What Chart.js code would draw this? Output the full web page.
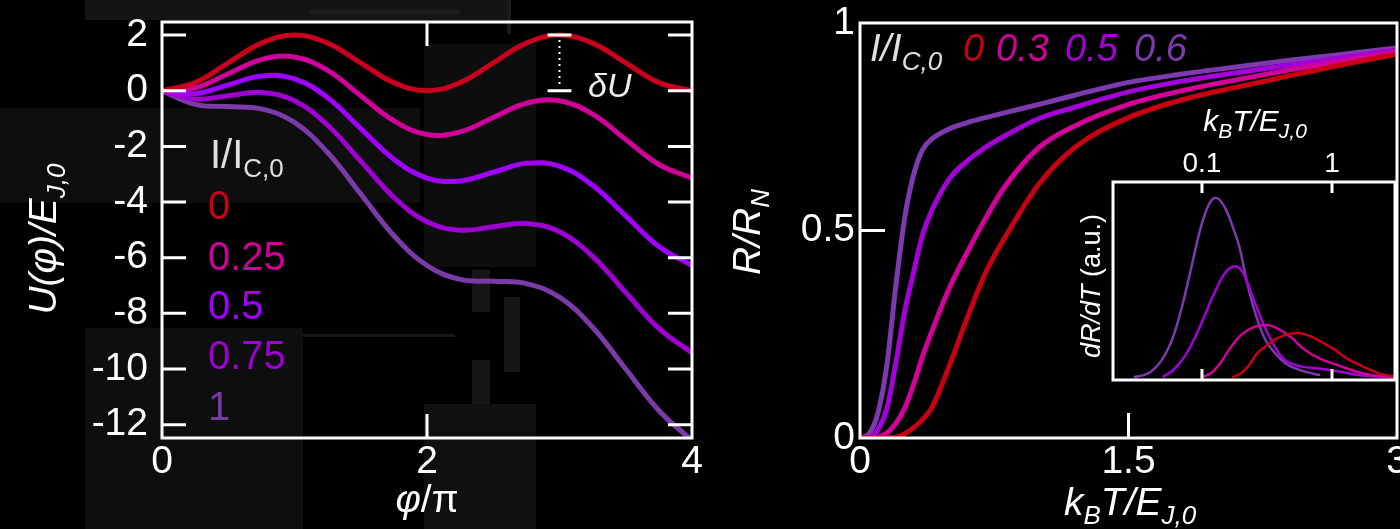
<!DOCTYPE html>
<html>
<head>
<meta charset="utf-8">
<script src="https://cdn.jsdelivr.net/npm/chart.js@4.4.1/dist/chart.umd.min.js"></script>
<style>
html, body { margin: 0; padding: 0; background: #000; }
#wrap { position: relative; width: 1400px; height: 529px; overflow: hidden; background: #000; }
#wrap canvas { position: absolute; }
.sem { position: absolute; }
</style>
</head>
<body>
<div id="wrap">
  <!-- faint SEM picture behind the left panel -->
  <div class="sem" style="left:85px;top:0;width:424px;height:20px;background:#141414"></div>
  <div class="sem" style="left:310px;top:10px;width:150px;height:4px;background:#1e1e1e"></div>
  <div class="sem" style="left:507px;top:0;width:4px;height:34px;background:#1a1a1a"></div>
  <div class="sem" style="left:0;top:108px;width:420px;height:95px;background:#0e0e0e"></div>
  <div class="sem" style="left:424px;top:44px;width:112px;height:223px;background:#0d0d0d"></div>
  <div class="sem" style="left:85px;top:328px;width:218px;height:201px;background:#0e0e0e"></div>
  <div class="sem" style="left:303px;top:334px;width:152px;height:3px;background:#181818"></div>
  <div class="sem" style="left:472px;top:270px;width:18px;height:42px;background:#161616"></div>
  <div class="sem" style="left:504px;top:297px;width:16px;height:75px;background:#161616"></div>
  <div class="sem" style="left:472px;top:360px;width:18px;height:45px;background:#161616"></div>
  <div class="sem" style="left:424px;top:404px;width:112px;height:125px;background:#101010"></div>
  <canvas id="potential" width="720" height="529" style="left:0;top:0"></canvas>
  <canvas id="resistance" width="700" height="529" style="left:700px;top:0"></canvas>
  <canvas id="inset" width="360" height="300" style="left:1040px;top:90px"></canvas>
</div>
<script>
var fam = '"Liberation Sans", Arial, Helvetica, sans-serif';

// left panel: tilted washboard potential
var phiOverPi = [0, 0.25, 0.5, 0.75, 1, 1.25, 1.5, 1.75, 2, 2.25, 2.5, 2.75, 3, 3.25, 3.5, 3.75, 4];
var biasLeft = ['0', '0.25', '0.5', '0.75', '1'];
var colorLeft = ['#c8001e', '#d0009a', '#a000ff', '#9e00d2', '#7a3aa8'];
var uBias0 = [0, 0.29, 1, 1.71, 2, 1.71, 1, 0.29, 0, 0.29, 1, 1.71, 2, 1.71, 1, 0.29, 0];
var uBias025 = [0, 0.10, 0.61, 1.12, 1.21, 0.73, -0.18, -1.08, -1.57, -1.48, -0.96, -0.45, -0.36, -0.84, -1.75, -2.65, -3.14];
var uBias05 = [0, -0.10, 0.21, 0.53, 0.43, -0.25, -1.36, -2.46, -3.14, -3.24, -2.93, -2.61, -2.71, -3.40, -4.50, -5.60, -6.28];
var uBias075 = [0, -0.30, -0.18, -0.06, -0.36, -1.24, -2.53, -3.83, -4.71, -5.01, -4.89, -4.77, -5.07, -5.95, -7.25, -8.54, -9.42];
var uBias1 = [0, -0.49, -0.57, -0.65, -1.14, -2.22, -3.71, -5.21, -6.28, -6.78, -6.85, -6.93, -7.42, -8.50, -10.00, -11.49, -12.57];
var phiTicks = [0, 2, 4];
var uTicks = [2, 0, -2, -4, -6, -8, -10, -12];

// right panel: R/RN versus temperature
var biasRight = ['0', '0.3', '0.5', '0.6'];
var colorRight = ['#c80014', '#d4009a', '#a400d8', '#7d3aae'];
var kT = [0, 0.05, 0.1, 0.15, 0.2, 0.25, 0.3, 0.35, 0.4, 0.5, 0.6, 0.7, 0.8, 1.0, 1.2, 1.5, 1.8, 2.1, 2.4, 2.7, 3.0];
var rBias0 = [0, 0, 0, 0, 0.002, 0.01, 0.025, 0.045, 0.072, 0.175, 0.29, 0.397, 0.476, 0.612, 0.70, 0.772, 0.815, 0.845, 0.873, 0.9, 0.925];
var rBias03 = [0, 0, 0.002, 0.012, 0.035, 0.072, 0.13, 0.197, 0.255, 0.362, 0.448, 0.528, 0.60, 0.70, 0.752, 0.804, 0.837, 0.863, 0.887, 0.909, 0.93];
var rBias05 = [0, 0.001, 0.02, 0.07, 0.18, 0.305, 0.40, 0.49, 0.547, 0.625, 0.668, 0.70, 0.726, 0.77, 0.797, 0.834, 0.86, 0.88, 0.899, 0.917, 0.935];
var rBias06 = [0, 0.01, 0.06, 0.175, 0.366, 0.531, 0.635, 0.695, 0.72, 0.745, 0.76, 0.772, 0.783, 0.804, 0.826, 0.857, 0.877, 0.894, 0.91, 0.925, 0.94];
var kTTicks = [0, 1.5, 3];
var rTicks = [0, 0.5, 1];

// inset: dR/dT on a log temperature axis
var insetT0 = [0.17, 0.2, 0.23, 0.26, 0.32, 0.4, 0.55, 0.7, 0.85, 1.02, 1.3, 1.85, 2.4, 3.0];
var insetD0 = [0.003, 0.025, 0.065, 0.118, 0.17, 0.21, 0.23, 0.21, 0.18, 0.15, 0.10, 0.05, 0.02, 0.008];
var insetT03 = [0.1, 0.12, 0.14, 0.164, 0.2, 0.25, 0.315, 0.4, 0.5, 0.6, 0.8, 1.09, 1.5, 2.0, 3.0];
var insetD03 = [0.004, 0.03, 0.08, 0.15, 0.22, 0.26, 0.27, 0.245, 0.2, 0.15, 0.10, 0.067, 0.035, 0.015, 0.003];
var insetT05 = [0.05, 0.06, 0.07, 0.08, 0.1, 0.12, 0.15, 0.18, 0.21, 0.25, 0.316, 0.42, 0.55, 0.76, 1.1, 1.55, 2.2, 3.0];
var insetD05 = [0.005, 0.04, 0.09, 0.15, 0.285, 0.41, 0.535, 0.57, 0.53, 0.40, 0.236, 0.10, 0.062, 0.05, 0.035, 0.017, 0.008, 0.003];
var insetT06 = [0.03, 0.04, 0.05, 0.06, 0.07, 0.08, 0.09, 0.1, 0.115, 0.128, 0.15, 0.175, 0.196, 0.22, 0.26, 0.31, 0.375, 0.45, 0.6, 0.81];
var insetD06 = [0.004, 0.03, 0.1, 0.21, 0.36, 0.52, 0.67, 0.79, 0.895, 0.92, 0.87, 0.76, 0.657, 0.5, 0.32, 0.19, 0.118, 0.07, 0.035, 0.015];
var insetTicks = [0.1, 1];

Chart.defaults.font.family = fam;

function pairs(xs, ys) {
    return xs.map(function (x, i) { return {x: x, y: ys[i]}; });
}

function fontOf(p) {
    return (p.it ? 'italic ' : '') + p.s + 'px ' + fam;
}

// text with subscript pieces; y is the baseline
function drawRich(ctx, parts, x, y, align, color, rot) {
    ctx.save();
    ctx.translate(x, y);
    if (rot) ctx.rotate(rot);
    ctx.textBaseline = 'alphabetic';
    ctx.textAlign = 'left';
    var w = 0;
    parts.forEach(function (p) { ctx.font = fontOf(p); w += ctx.measureText(p.t).width; });
    var cx = align === 'center' ? -w / 2 : 0;
    parts.forEach(function (p) {
        ctx.font = fontOf(p);
        ctx.fillStyle = p.c || color;
        ctx.fillText(p.t, cx, p.dy || 0);
        cx += ctx.measureText(p.t).width;
    });
    ctx.restore();
}

function fixedTicks(list) {
    return function (s) { s.ticks = list.map(function (v) { return {value: v}; }); };
}

function tickOpts(size, pad) {
    return {
        color: '#fff', font: {family: fam, size: size}, padding: pad,
        maxRotation: 0, autoSkip: false,
        callback: function (v) { return String(v); }
    };
}

// white box with inward tick marks
function framePlugin(cfg) {
    return {
        id: 'frame',
        beforeDatasetsDraw: function (chart) {
            if (!cfg.fill) return;
            var a = chart.chartArea;
            chart.ctx.fillStyle = '#000';
            chart.ctx.fillRect(a.left, a.top, a.right - a.left, a.bottom - a.top);
        },
        afterDatasetsDraw: function (chart) {
            var c = chart.ctx, a = chart.chartArea, sx = chart.scales.x, sy = chart.scales.y;
            c.save();
            c.strokeStyle = '#fff';
            c.lineWidth = cfg.lw;
            c.lineCap = 'butt';
            c.strokeRect(a.left, a.top, a.right - a.left, a.bottom - a.top);
            c.beginPath();
            (cfg.yTicks || []).forEach(function (v) {
                var py = sy.getPixelForValue(v);
                c.moveTo(a.left, py); c.lineTo(a.left + cfg.len, py);
                if (cfg.mirror) { c.moveTo(a.right, py); c.lineTo(a.right - cfg.len, py); }
            });
            (cfg.xTicks || []).forEach(function (v) {
                var px = sx.getPixelForValue(v);
                if (cfg.bottom) { c.moveTo(px, a.bottom); c.lineTo(px, a.bottom - cfg.len); }
                if (cfg.top) { c.moveTo(px, a.top); c.lineTo(px, a.top + cfg.len); }
            });
            c.stroke();
            c.restore();
            if (cfg.extra) cfg.extra(chart);
        }
    };
}

// ---------------- left panel ----------------
var potential = [uBias0, uBias025, uBias05, uBias075, uBias1];

function leftText(chart) {
    var c = chart.ctx, sx = chart.scales.x, sy = chart.scales.y;
    // delta U marker
    var x0 = sx.getPixelForValue(3);
    var xa = sx.getPixelForValue(2.91), xb = sx.getPixelForValue(3.09);
    var yTop = sy.getPixelForValue(2), yBot = sy.getPixelForValue(0);
    c.save();
    c.strokeStyle = '#fff';
    c.lineWidth = 3;
    c.beginPath();
    c.moveTo(xa, yTop); c.lineTo(xb, yTop);
    c.moveTo(xa, yBot); c.lineTo(xb, yBot);
    c.stroke();
    c.lineWidth = 2;
    c.setLineDash([2, 4]);
    c.beginPath();
    c.moveTo(x0, yTop + 5); c.lineTo(x0, yBot - 4);
    c.stroke();
    c.restore();
    drawRich(c, [{t: 'δU', s: 34, it: true}], 588, 97, 'left', '#eee');

    // legend
    drawRich(c, [{t: 'I/I', s: 40}, {t: 'C,0', s: 26, dy: 9}], 210, 168, 'left', '#e0e0e0');
    var base = [219, 270, 319, 369, 420];
    biasLeft.forEach(function (b, i) {
        drawRich(c, [{t: b, s: 40}], 208, base[i], 'left', colorLeft[i]);
    });

    // axis titles
    drawRich(c, [{t: 'φ', s: 39, it: true}, {t: '/π', s: 39}], 427, 512, 'center', '#fff');
    drawRich(c, [{t: 'U(φ)/E', s: 39, it: true}, {t: 'J,0', s: 26, it: true, dy: 9}],
        56, 239, 'center', '#fff', -Math.PI / 2);
}

new Chart(document.getElementById('potential'), {
    type: 'line',
    data: {
        datasets: biasLeft.map(function (b, i) {
            return {
                label: b, data: pairs(phiOverPi, potential[i]),
                borderColor: colorLeft[i], borderWidth: 5, pointRadius: 0,
                tension: 0.4, fill: false
            };
        })
    },
    options: {
        responsive: false, animation: false, devicePixelRatio: 1,
        layout: {padding: {left: 0, right: 28, top: 22, bottom: 0}},
        plugins: {legend: {display: false}, tooltip: {enabled: false}},
        scales: {
            x: {
                type: 'linear', min: 0, max: 4,
                afterBuildTicks: fixedTicks(phiTicks),
                afterFit: function (s) { s.height = 91; s.paddingLeft = 0; s.paddingRight = 0; },
                grid: {display: false, drawTicks: false}, border: {display: false},
                ticks: tickOpts(39, 1)
            },
            y: {
                type: 'linear', min: -12.48, max: 2.47,
                afterBuildTicks: fixedTicks(uTicks),
                afterFit: function (s) { s.width = 162; s.paddingTop = 0; s.paddingBottom = 0; },
                grid: {display: false, drawTicks: false}, border: {display: false},
                ticks: tickOpts(39, 14)
            }
        }
    },
    plugins: [framePlugin({lw: 3, len: 24, yTicks: uTicks, xTicks: [2], mirror: true, top: true, bottom: true, extra: leftText})]
});

// ---------------- right panel ----------------
var resistance = [rBias0, rBias03, rBias05, rBias06];

function rightText(chart) {
    var c = chart.ctx;
    drawRich(c, [{t: 'I/I', s: 38, it: true}, {t: 'C,0', s: 26, it: true, dy: 9}], 170, 61, 'left', '#e0e0e0');
    var xs = [263, 296, 365, 434];
    biasRight.forEach(function (b, i) {
        drawRich(c, [{t: b, s: 38, it: true}], xs[i], 61, 'left', colorRight[i]);
    });
    drawRich(c, [{t: 'k', s: 39, it: true}, {t: 'B', s: 26, it: true, dy: 9}, {t: 'T/E', s: 39, it: true},
        {t: 'J,0', s: 26, it: true, dy: 9}], 430, 515, 'center', '#fff');
    drawRich(c, [{t: 'R/R', s: 39, it: true}, {t: 'N', s: 26, it: true, dy: 9}],
        60, 232, 'center', '#fff', -Math.PI / 2);
}

new Chart(document.getElementById('resistance'), {
    type: 'line',
    data: {
        datasets: biasRight.map(function (b, i) {
            return {
                label: b, data: pairs(kT, resistance[i]),
                borderColor: colorRight[i], borderWidth: 5, pointRadius: 0,
                cubicInterpolationMode: 'monotone', fill: false
            };
        })
    },
    options: {
        responsive: false, animation: false, devicePixelRatio: 1,
        layout: {padding: {left: 0, right: 3, top: 23, bottom: 0}},
        plugins: {legend: {display: false}, tooltip: {enabled: false}},
        scales: {
            x: {
                type: 'linear', min: 0, max: 3,
                afterBuildTicks: fixedTicks(kTTicks),
                afterFit: function (s) { s.height = 91; s.paddingLeft = 0; s.paddingRight = 0; },
                grid: {display: false, drawTicks: false}, border: {display: false},
                ticks: tickOpts(39, 1)
            },
            y: {
                type: 'linear', min: 0, max: 1,
                afterBuildTicks: fixedTicks(rTicks),
                afterFit: function (s) { s.width = 160; s.paddingTop = 0; s.paddingBottom = 0; },
                grid: {display: false, drawTicks: false}, border: {display: false},
                ticks: tickOpts(39, 5)
            }
        }
    },
    plugins: [framePlugin({lw: 3, len: 25, yTicks: [0.5], xTicks: [1.5], mirror: false, top: false, bottom: true, extra: rightText})]
});

// ---------------- inset ----------------
var insetX = [insetT0, insetT03, insetT05, insetT06];
var insetY = [insetD0, insetD03, insetD05, insetD06];

function insetText(chart) {
    var c = chart.ctx;
    drawRich(c, [{t: 'k', s: 30, it: true}, {t: 'B', s: 21, it: true, dy: 7}, {t: 'T/E', s: 30, it: true},
        {t: 'J,0', s: 21, it: true, dy: 7}], 215, 41, 'center', '#fff');
    drawRich(c, [{t: 'dR/dT', s: 27, it: true}, {t: ' (a.u.)', s: 27}],
        60, 196, 'center', '#fff', -Math.PI / 2);
}

new Chart(document.getElementById('inset'), {
    type: 'line',
    data: {
        datasets: biasRight.map(function (b, i) {
            return {
                label: b, data: pairs(insetX[i], insetY[i]),
                borderColor: colorRight[i], borderWidth: 2.5, pointRadius: 0,
                cubicInterpolationMode: 'monotone', fill: false
            };
        })
    },
    options: {
        responsive: false, animation: false, devicePixelRatio: 1,
        layout: {padding: {left: 73, right: 5, top: 0, bottom: 10}},
        plugins: {legend: {display: false}, tooltip: {enabled: false}},
        scales: {
            x: {
                type: 'logarithmic', position: 'top', min: 0.0207, max: 3.05,
                afterBuildTicks: fixedTicks(insetTicks),
                afterFit: function (s) { s.height = 92; s.paddingLeft = 0; s.paddingRight = 0; },
                grid: {display: false, drawTicks: false}, border: {display: false},
                ticks: tickOpts(28, 1)
            },
            y: {type: 'linear', min: -0.01, max: 1, display: false}
        }
    },
    plugins: [framePlugin({lw: 3, len: 11, xTicks: insetTicks, top: true, bottom: true, fill: true, extra: insetText})]
});
</script>
</body>
</html>
